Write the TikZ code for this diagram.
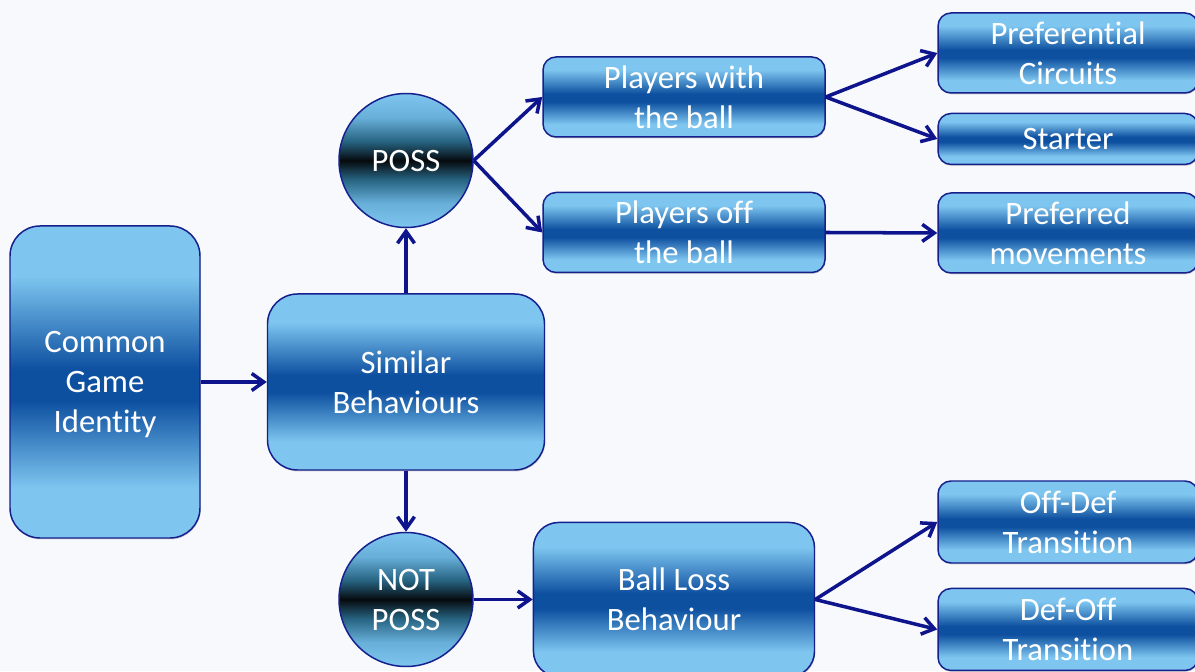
\documentclass[tikz,border=0pt]{standalone}
\usepackage{fontspec}
\setmainfont{Carlito}[Ligatures=NoCommon]
\usetikzlibrary{positioning,arrows.meta,shadows}

\definecolor{boxlight}{RGB}{126,198,240}
\definecolor{boxdark}{RGB}{14,80,160}
\definecolor{ballupper}{RGB}{104,176,218}
\definecolor{ballmid}{RGB}{38,98,128}
\definecolor{ballcore}{RGB}{6,10,14}
\definecolor{rim}{RGB}{22,32,140}
\definecolor{arrowblue}{RGB}{14,20,140}
\definecolor{paper}{RGB}{247,249,252}

\pgfdeclareverticalshading{boxshade}{100bp}{color(0bp)=(boxlight); color(25bp)=(boxlight); color(33bp)=(boxlight); color(47bp)=(boxdark); color(52bp)=(boxdark); color(67bp)=(boxlight); color(75bp)=(boxlight); color(100bp)=(boxlight)}
\pgfdeclareverticalshading{ballshade}{100bp}{color(0bp)=(boxlight); color(25bp)=(boxlight); color(34bp)=(ballupper); color(43bp)=(ballmid); color(50bp)=(ballcore); color(57bp)=(ballmid); color(66bp)=(ballupper); color(75bp)=(boxlight); color(100bp)=(boxlight)}

\begin{document}
\begin{tikzpicture}
\tikzstyle{block}=[rectangle, rounded corners=2.6mm, draw=rim, line width=0.85pt, shade, shading=boxshade, drop shadow={shadow xshift=0.4pt, shadow yshift=-0.8pt, opacity=0.35}, text=white, align=center, font=\fontsize{18.6}{22.8}\selectfont, text depth=0pt, inner sep=0pt]
\tikzstyle{state}=[circle, minimum size=26.8mm, draw=rim, line width=0.85pt, shade, shading=ballshade, text=white, align=center, font=\fontsize{18.6}{22.8}\selectfont, text depth=0pt, inner sep=0pt]
\tikzstyle{connect}=[-{Straight Barb[length=2.4mm,width=3.4mm]}, line width=2pt, draw=arrowblue]

  \fill[paper] (0,0) rectangle (23.9,13.42);
  \useasboundingbox (0,0) rectangle (23.9,13.42);

  \node[block, rounded corners=6mm, minimum width=38mm, minimum height=62.4mm] (identity) at (2.10,5.78) {Common\\Game\\Identity};
  \node[block, rounded corners=6mm, minimum width=55.4mm, minimum height=35.2mm] (similar) [right=13.2mm of identity] {Similar\\Behaviours};
  \node[state] (poss) [above=13mm of similar] {POSS};
  \node[state] (notposs) [below=12.2mm of similar] {NOT\\POSS};

  \node[block, minimum width=56.4mm, minimum height=16mm] (withball) at (13.68,11.48) {Players with\\the ball};
  \node[block, minimum width=56.4mm, minimum height=16mm] (offball) [below=10.8mm of withball] {Players off\\the ball};
  \node[block, rounded corners=5mm, minimum width=56.2mm, minimum height=30.8mm] (ballloss) [right=11.8mm of notposs] {Ball Loss\\Behaviour};

  \node[block, minimum width=52mm, minimum height=16mm] (circuits) at (21.36,12.36) {Preferential\\Circuits};
  \node[block, minimum width=52mm, minimum height=10.2mm] (starter) [below=3.8mm of circuits] {Starter};
  \node[block, minimum width=52mm, minimum height=16mm] (movements) [below=5.4mm of starter] {Preferred\\movements};
  \node[block, minimum width=52mm, minimum height=16.4mm] (offdef) at (21.36,2.98) {Off-Def\\Transition};
  \node[block, minimum width=52mm, minimum height=16.4mm] (defoff) [below=4.8mm of offdef] {Def-Off\\Transition};

  \path (identity) edge [connect] (similar)
        (similar) edge [connect] (poss)
        (similar) edge [connect] (notposs)
        (poss.east) edge [connect] (withball.west)
        (poss.east) edge [connect] (offball.west)
        (withball.east) edge [connect] (circuits.west)
        (withball.east) edge [connect] (starter.west)
        (offball.east) edge [connect] (movements.west)
        (notposs) edge [connect] (ballloss)
        (ballloss.east) edge [connect] (offdef.west)
        (ballloss.east) edge [connect] (defoff.west);
\end{tikzpicture}
\end{document}
